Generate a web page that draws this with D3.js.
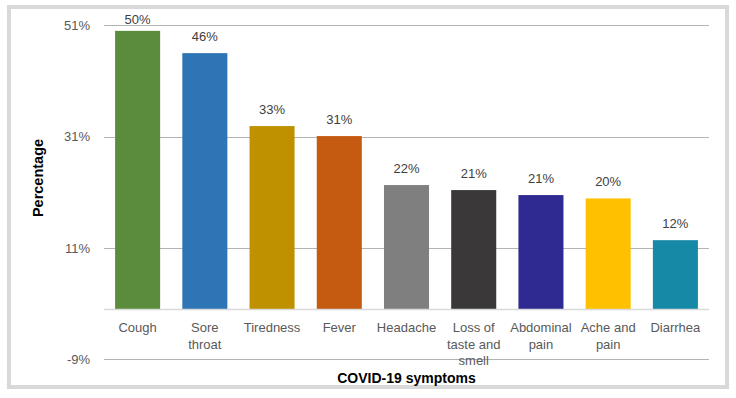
<!DOCTYPE html>
<html><head><meta charset="utf-8">
<script src="https://cdn.jsdelivr.net/npm/d3@7"></script>
<style>body{margin:0;background:#fff;}svg{display:block;font-family:"Liberation Sans",Arial,sans-serif;}</style>
</head><body>
<svg id="chart" width="736" height="398"></svg>
<script>
const categories = ["Cough","Sore throat","Tiredness","Fever","Headache","Loss of taste and smell","Abdominal pain","Ache and pain","Diarrhea"];
const categoryLines = [["Cough"],["Sore","throat"],["Tiredness"],["Fever"],["Headache"],["Loss of","taste and","smell"],["Abdominal","pain"],["Ache and","pain"],["Diarrhea"]];
const values = [50, 46, 32.9, 31.1, 22.3, 21.4, 20.5, 19.9, 12.4];
const valueLabels = ["50%","46%","33%","31%","22%","21%","21%","20%","12%"];
const colors = ["#5b8c3c","#2e75b6","#bf9000","#c55a11","#7f7f7f","#3a3838","#2e2a91","#ffc000","#1689a6"];
const tickValues = [51, 31, 11, -9];
const tickLabels = ["51%","31%","11%","-9%"];

const svg = d3.select("#chart");
// outer frame
svg.append("rect").attr("x",9).attr("y",7).attr("width",718).attr("height",380)
  .attr("fill","#fff").attr("stroke","#d9d9d9").attr("stroke-width",4);

const left = 104, right = 709;
const y = d3.scaleLinear().domain([-9, 51]).range([359.3, 25.3]);
const x = d3.scaleBand().domain(categories).range([left, right]).paddingInner(0.33).paddingOuter(0.165);

// gridlines
svg.append("g").selectAll("line").data(tickValues).join("line")
  .attr("x1", left).attr("x2", right)
  .attr("y1", d => Math.round(y(d)) + 0.5).attr("y2", d => Math.round(y(d)) + 0.5)
  .attr("stroke", "#b3b3b3").attr("stroke-width", 1);

// y-axis tick labels
const yAxis = d3.axisLeft(y).tickValues(tickValues).tickFormat((d,i) => tickLabels[i]).tickSize(0).tickPadding(14);
const yg = svg.append("g").attr("transform", `translate(${left},0)`).call(yAxis);
yg.select(".domain").remove();
yg.selectAll("text").attr("font-size", 13).attr("fill", "#595959").attr("font-family", "Liberation Sans, Arial, sans-serif");

// bars
svg.append("g").selectAll("rect").data(values).join("rect")
  .attr("x", (d,i) => x(categories[i]))
  .attr("width", x.bandwidth())
  .attr("y", d => y(d))
  .attr("height", d => y(0) - y(d))
  .attr("fill", (d,i) => colors[i]);

// baseline
svg.append("line").attr("x1", left).attr("x2", right)
  .attr("y1", Math.round(y(0)) + 0.5).attr("y2", Math.round(y(0)) + 0.5)
  .attr("stroke", "#d9d9d9").attr("stroke-width", 1.5);

// value labels
svg.append("g").selectAll("text").data(values).join("text")
  .attr("x", (d,i) => x(categories[i]) + x.bandwidth()/2)
  .attr("y", d => Math.max(y(d) - 12, 24))
  .attr("text-anchor", "middle").attr("font-size", 13).attr("fill", "#404040")
  .text((d,i) => valueLabels[i]);

// category labels
const cg = svg.append("g");
categories.forEach((c, i) => {
  const t = cg.append("text").attr("text-anchor", "middle").attr("font-size", 13).attr("fill", "#595959");
  categoryLines[i].forEach((ln, j) => {
    t.append("tspan").attr("x", x(c) + x.bandwidth()/2).attr("y", 332 + j*16.5).text(ln);
  });
});

// axis titles
svg.append("text").attr("x", (left + right)/2).attr("y", 383)
  .attr("text-anchor", "middle").attr("font-size", 14).attr("font-weight", "bold").attr("fill", "#000")
  .text("COVID-19 symptoms");
svg.append("text").attr("transform", "translate(43,178) rotate(-90)")
  .attr("text-anchor", "middle").attr("font-size", 14.5).attr("font-weight", "bold").attr("fill", "#000")
  .text("Percentage");
</script>
</body></html>
